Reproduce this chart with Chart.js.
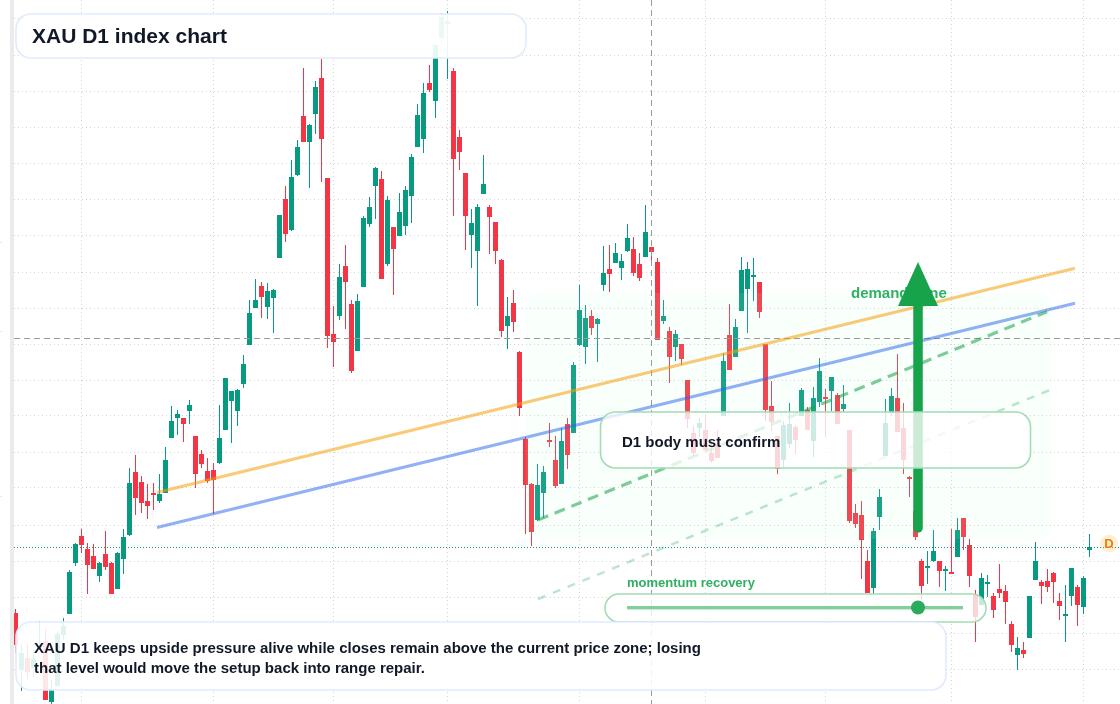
<!DOCTYPE html>
<html><head><meta charset="utf-8">
<style>html,body{margin:0;padding:0;background:#fff}canvas{display:block}</style>
<script src="https://cdn.jsdelivr.net/npm/chart.js@4/dist/chart.umd.js"></script>
</head><body><canvas id="c" width="1120" height="704"></canvas>
<script>
const open = [387,330,342,332,352,359,298,314,365,386,437,464,451,444,424,446,437,411,441,465,
528,518,499,507,499,507,562,582,582,589,564,546,529,530,537,570,599,589,616,655,
692,714,693,702,742,801,770,825,884,858,886,922,822,666,684,734,696,649,713,776,
814,821,736,773,764,774,804,853,861,917,899,962,976,929,863,827,765,749,806,793,
778,740,674,697,648,561,516,480,507,560,540,516,576,567,655,653,684,676,715,731,
737,732,749,751,736,743,753,738,679,669,653,656,620,567,572,570,547,556,584,665,
643,689,711,723,718,656,594,564,540,556,573,584,590,559,598,603,609,605,591,570,
487,485,439,412,483,544,587,602,572,523,489,439,432,439,439,429,428,443,482,455,
405,395,416,404,411,409,376,345,350,362,420,418,419,427,399,384,404,413,393,450];
const high = [391,356,356,350,379,371,320,368,382,430,457,471,457,456,438,469,438,448,471,532,
545,524,516,517,526,553,594,590,582,600,564,550,542,537,595,622,609,611,645,700,
721,718,717,711,785,814,840,860,932,876,919,941,822,694,736,755,700,706,784,803,
833,829,804,773,807,814,846,896,917,935,955,987,989,932,870,827,791,796,845,795,
778,741,703,710,649,563,517,536,534,577,564,572,582,638,715,695,690,682,754,755,
757,746,776,763,747,795,753,742,700,673,670,656,620,574,582,586,560,570,647,696,
681,743,738,742,718,656,619,564,579,597,575,612,593,613,642,611,623,607,615,570,
496,499,450,472,511,601,612,646,597,524,489,441,449,470,439,434,471,482,482,461,
410,427,425,407,436,415,379,363,358,404,458,420,431,428,407,415,432,415,424,466];
const low = [347,309,321,323,350,300,296,314,360,386,434,447,406,431,418,430,406,411,426,464,
485,487,481,490,497,507,562,565,558,576,512,532,517,486,536,570,557,574,612,655,
692,682,681,667,742,758,769,824,858,812,866,818,652,633,680,671,627,649,713,773,
781,721,734,705,764,765,777,853,847,908,882,958,921,784,830,750,732,694,806,746,
736,663,651,668,584,466,454,479,482,553,512,516,531,567,654,636,665,638,709,708,
737,720,748,724,719,743,734,660,676,617,639,635,572,544,563,550,537,542,584,630,
643,689,667,699,682,579,569,526,533,552,546,584,570,543,593,563,589,576,588,477,
472,421,407,406,470,544,584,568,526,503,460,400,416,438,413,409,426,443,450,413,
358,395,403,382,402,376,348,330,342,362,420,396,408,397,380,358,394,374,386,443];
const close = [355,347,328,341,354,300,311,366,374,428,456,455,435,431,437,433,406,447,463,517,
502,497,494,505,506,540,579,586,576,595,526,536,519,520,562,622,609,610,636,687,
700,703,709,710,785,766,823,853,858,875,913,861,664,658,723,718,629,699,782,793,
832,721,800,751,788,810,843,885,907,910,955,983,979,841,848,784,777,793,816,783,
749,669,684,678,592,515,468,515,528,558,514,559,545,635,690,682,672,681,727,726,
747,739,762,727,722,768,748,660,684,643,666,641,581,547,577,550,539,542,639,630,
673,730,731,725,688,590,578,531,575,576,560,610,570,602,629,601,623,576,596,479,
476,460,407,469,503,577,604,568,540,521,463,414,434,449,429,431,426,470,463,424,
383,422,418,390,407,398,355,352,346,404,439,414,413,418,394,386,432,395,422,453];

const gridPrices = [981,945,909,873,837,801,765,728,692,656,620,584,548,512,475,439,403,367,331];
const gridIndexes = [11,33,53,72,94,115,135,156,178];
const lastPrice = 453;
const crossPrice = 661.5;
const crossIndex = 106;
const axisMarks = [758,669,504];

const orangeLine = [{x:23.58,y:507.5},{x:176.58,y:731.7}];
const blueLine = [{x:23.58,y:472.5},{x:176.58,y:696.7}];
const greenDash = [{x:87.08,y:480},{x:171.92,y:688.3}];
const paleDash = [{x:87.08,y:401},{x:172.42,y:610}];
const arrowShaft = [{x:150.42,y:472},{x:150.42,y:694}];
const arrowTip = {x:150.42,y:738,base:694};
const zoneBox = {x0:85,x1:172.75,y0:707,y1:461};

const titleText = 'XAU D1 index chart';
const noteLines = ['XAU D1 keeps upside pressure alive while closes remain above the current price zone; losing','that level would move the setup back into range repair.'];
const confirmText = 'D1 body must confirm';
const zoneText = 'demand zone';
const momentumText = 'momentum recovery';
const badgeText = 'D';

const UP='#089981', DOWN='#F23645';
const idx = open.map((_,i)=>i);
const colors = open.map((o,i)=> close[i]>=o ? UP : DOWN);

function rr(ctx,x,y,w,h,r,fill,stroke,lw){
  ctx.beginPath();ctx.roundRect(x,y,w,h,r);
  if(fill){ctx.fillStyle=fill;ctx.fill();}
  if(stroke){ctx.strokeStyle=stroke;ctx.lineWidth=lw;ctx.stroke();}
}
function label(ctx,t,x,y,font,col,al){
  ctx.font=font;ctx.fillStyle=col;ctx.textAlign=al||'left';ctx.textBaseline='alphabetic';ctx.fillText(t,x,y);
}
const FONT='"Liberation Sans", Arial, sans-serif';

const overlay = {
  id:'overlay',
  beforeDraw(chart){
    const c=chart.ctx,ys=chart.scales.y;
    c.save();
    c.fillStyle='#fff';c.fillRect(0,0,1120,704);
    c.fillStyle='#ebebeb';c.fillRect(10,0,4,704);
    c.fillStyle='#e8e8e8';
    axisMarks.forEach(v=>c.fillRect(0,ys.getPixelForValue(v),2,1));
    c.restore();
  },
  afterDatasetDraw(chart,args){
    const c=chart.ctx,xs=chart.scales.x,ys=chart.scales.y;
    const name=chart.data.datasets[args.index].label;
    if(name==='body'){
      c.save();
      const zx=xs.getPixelForValue(zoneBox.x0),zy=ys.getPixelForValue(zoneBox.y0);
      rr(c,zx,zy,xs.getPixelForValue(zoneBox.x1)-zx,ys.getPixelForValue(zoneBox.y1)-zy,16,'rgba(195,255,215,0.1)');
      c.strokeStyle=UP;c.lineWidth=1;c.setLineDash([1,2]);
      const ly=Math.round(ys.getPixelForValue(lastPrice))+0.5;
      c.beginPath();c.moveTo(14,ly);c.lineTo(1120,ly);c.stroke();
      c.strokeStyle='#9a9a9a';c.setLineDash([6,4]);
      const cy=ys.getPixelForValue(crossPrice),cx=Math.floor(xs.getPixelForValue(crossIndex)+0.01)+0.5;
      c.beginPath();c.moveTo(14,cy);c.lineTo(1120,cy);c.stroke();
      c.beginPath();c.moveTo(cx,0);c.lineTo(cx,704);c.stroke();
      c.restore();
    }
    if(name==='pale'){
      label(c,zoneText,851,298,'bold 15px '+FONT,'#2fb062');
    }
  },
  afterDatasetsDraw(chart){
    const c=chart.ctx,xs=chart.scales.x,ys=chart.scales.y;
    c.save();
    const ax=xs.getPixelForValue(arrowTip.x),ay=ys.getPixelForValue(arrowTip.y),by=ys.getPixelForValue(arrowTip.base);
    c.fillStyle='#16a34a';c.beginPath();c.moveTo(ax,ay);c.lineTo(ax+20,by);c.lineTo(ax-20,by);c.closePath();c.fill();

    rr(c,600.5,412,430,56,15,'rgba(255,255,255,0.78)','#a3dcb5',1.6);
    label(c,confirmText,622,447,'bold 15px '+FONT,'#111827');

    label(c,momentumText,627,587,'bold 13px '+FONT,'#2fb062');
    rr(c,605,594,381,28,14,'rgba(255,255,255,0.78)','#a3dcb5',1.6);
    c.fillStyle='#82cf9b';c.fillRect(627,606,336,3.4);
    c.fillStyle='#2bab5c';c.beginPath();c.arc(918,607.5,7,0,Math.PI*2);c.fill();

    rr(c,16,14,510,44,15,'rgba(255,255,255,0.92)','#e0ebfb',1.6);
    label(c,titleText,32,43,'bold 21px '+FONT,'#111827');

    rr(c,16,622,930,68,15,'rgba(255,255,255,0.88)','#e0ebfb',1.6);
    label(c,noteLines[0],34,653,'bold 15px '+FONT,'#111827');
    label(c,noteLines[1],34,673,'bold 15px '+FONT,'#111827');

    c.fillStyle='rgba(245,158,11,0.16)';c.beginPath();c.arc(1109,543.5,9,0,Math.PI*2);c.fill();
    label(c,badgeText,1109,548,'bold 13px '+FONT,'#f57c00','center');
    c.restore();
  }
};

const lineBase={type:'line',pointRadius:0,tension:0,fill:false,borderCapStyle:'butt'};
new Chart(document.getElementById('c'),{
  data:{datasets:[
    {type:'bar',label:'wick',order:11,data:idx.map(i=>({x:i,y:[low[i],high[i]]})),backgroundColor:colors,barThickness:1,grouped:false,inflateAmount:0,borderWidth:0},
    {type:'bar',label:'body',order:10,data:idx.map(i=>({x:i,y:[open[i],close[i]]})),backgroundColor:colors,barThickness:5,grouped:false,inflateAmount:0,borderWidth:0},
    {...lineBase,label:'orange',order:6,data:orangeLine,borderColor:'rgba(245,158,11,0.55)',borderWidth:3.2},
    {...lineBase,label:'blue',order:5,data:blueLine,borderColor:'rgba(37,99,235,0.5)',borderWidth:3.2},
    {...lineBase,label:'green',order:4,data:greenDash,borderColor:'rgba(22,163,74,0.55)',borderWidth:3.2,borderDash:[11,7]},
    {...lineBase,label:'pale',order:3,data:paleDash,borderColor:'rgba(22,163,74,0.28)',borderWidth:2.5,borderDash:[8,8]},
    {...lineBase,label:'arrow',order:1,data:arrowShaft,borderColor:'#16a34a',borderWidth:9.5,borderCapStyle:'round'}
  ]},
  options:{
    responsive:false,animation:false,events:[],
    layout:{padding:{left:14,right:0,top:0,bottom:0}},
    plugins:{legend:{display:false},tooltip:{enabled:false},title:{display:false}},
    scales:{
      x:{type:'linear',offset:false,min:-0.25,max:184.0833,
        ticks:{display:false},grid:{offset:false,color:'#d4d4d4',drawTicks:false},border:{display:false,dash:[1,3]},
        afterBuildTicks(s){s.ticks=gridIndexes.map(v=>({value:v}));}},
      y:{type:'linear',min:296,max:1000,
        ticks:{display:false},grid:{color:'#d4d4d4',drawTicks:false},border:{display:false,dash:[1,3]},
        afterBuildTicks(s){s.ticks=gridPrices.map(v=>({value:v}));}}
    }
  },
  plugins:[overlay]
});
</script></body></html>
